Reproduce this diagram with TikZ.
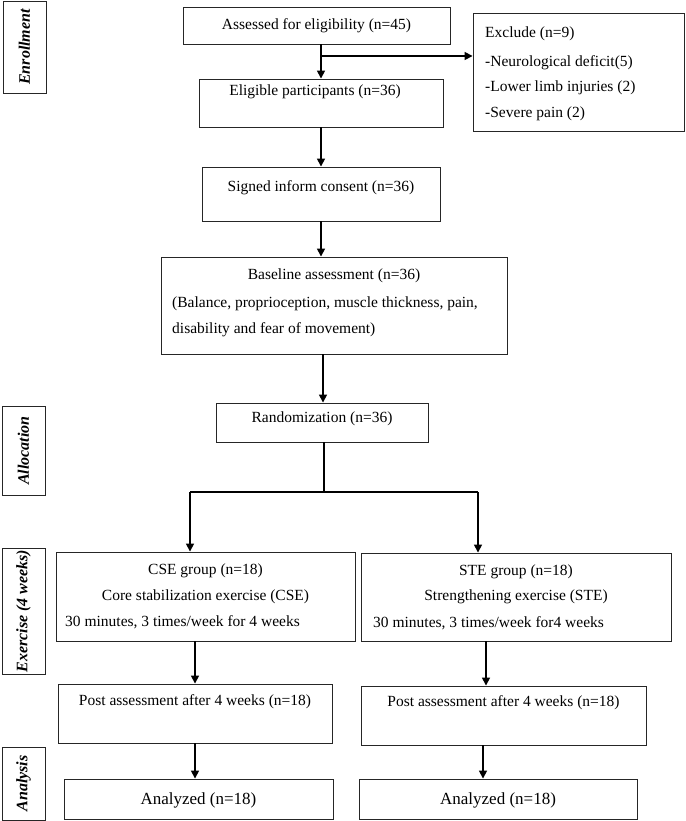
\documentclass[tikz,border=0pt]{standalone}
\usepackage{fontspec}
\setmainfont{Liberation Serif}
\usetikzlibrary{arrows.meta,calc}
\tikzset{
  box/.style={draw=black!85, line width=0.9pt, inner sep=0pt, rectangle},
  txt/.style={inner sep=0pt, font=\fontsize{15.5}{18}\selectfont, anchor=base},
  ltxt/.style={txt, anchor=base west},
  btxt/.style={inner sep=0pt, font=\fontsize{17}{20}\selectfont, anchor=base},
  side/.style={inner sep=0pt, font=\fontsize{16}{18}\selectfont\bfseries\itshape, rotate=90},
  arr/.style={line width=1.6pt, -{Triangle[length=8pt,width=8pt]}},
  ln/.style={line width=1.6pt},
}
\begin{document}
\begin{tikzpicture}[x=1pt,y=-1pt]
\useasboundingbox (0,0) rectangle (685,821);
% boxes
\node[box, minimum width=43pt, minimum height=92pt] (enr) at (24.5,47) {};
\node[box, minimum width=267pt, minimum height=37pt] (asm) at (316.5,25.5) {};
\node[box, minimum width=244pt, minimum height=48pt] (elig) at (321,103) {};
\node[box, minimum width=211pt, minimum height=118pt] (excl) at (578.5,72) {};
\node[box, minimum width=238pt, minimum height=54pt] (sign) at (321,194) {};
\node[box, minimum width=346pt, minimum height=97pt] (base) at (334,305.5) {};
\node[box, minimum width=43pt, minimum height=89pt] (alloc) at (23.5,450.5) {};
\node[box, minimum width=212pt, minimum height=39pt] (rand) at (322,422.5) {};
\node[box, minimum width=43pt, minimum height=126pt] (exlab) at (23.5,611) {};
\node[box, minimum width=299pt, minimum height=89pt] (cse) at (205.5,596.5) {};
\node[box, minimum width=310pt, minimum height=88pt] (ste) at (516,597) {};
\node[box, minimum width=274pt, minimum height=59pt] (postL) at (195,713.5) {};
\node[box, minimum width=285pt, minimum height=59pt] (postR) at (503.5,715.5) {};
\node[box, minimum width=43pt, minimum height=73pt] (analab) at (23.5,783.5) {};
\node[box, minimum width=269pt, minimum height=40pt] (anaL) at (198.5,799) {};
\node[box, minimum width=278pt, minimum height=40pt] (anaR) at (498,799) {};
% side labels
\node[side] (tenr) at (enr.center) {Enrollment};
\node[side] (talloc) at (alloc.center) {Allocation};
\node[side] (texlab) at (exlab.center) {Exercise (4 weeks)};
\node[side] (tanalab) at (analab.center) {Analysis};
% texts
\node[txt] (tasm) at (316.5,30) {Assessed for eligibility (n=45)};
\node[txt] (telig) at (315,96) {Eligible participants (n=36)};
\node[ltxt] (te1) at (485,38) {Exclude (n=9)};
\node[ltxt] (te2) at (485,67) {-Neurological deficit(5)};
\node[ltxt] (te3) at (485,92) {-Lower limb injuries (2)};
\node[ltxt] (te4) at (485,118) {-Severe pain (2)};
\node[txt] (tsign) at (321,191) {Signed inform consent (n=36)};
\node[txt] (tb1) at (334,279) {Baseline assessment (n=36)};
\node[ltxt] (tb2) at (172,307) {(Balance, proprioception, muscle thickness, pain,};
\node[ltxt] (tb3) at (172,333) {disability and fear of movement)};
\node[txt] (trand) at (322,422) {Randomization (n=36)};
\node[txt] (tc1) at (205.5,574) {CSE group (n=18)};
\node[txt] (tc2) at (205.5,600) {Core stabilization exercise (CSE)};
\node[ltxt] (tc3) at (65,626) {30 minutes, 3 times/week for 4 weeks};
\node[txt] (ts1) at (516,575) {STE group (n=18)};
\node[txt] (ts2) at (516,600) {Strengthening exercise (STE)};
\node[ltxt] (ts3) at (373,627) {30 minutes, 3 times/week for4 weeks};
\node[txt] (tpl) at (195,705) {Post assessment after 4 weeks (n=18)};
\node[txt] (tpr) at (503.5,706) {Post assessment after 4 weeks (n=18)};
\node[btxt] (tal) at (198.5,804) {Analyzed (n=18)};
\node[btxt] (tar) at (498,804) {Analyzed (n=18)};
% connectors
\coordinate (c1) at (321,56);
\draw[ln] (asm.south -| c1) -- (c1);
\draw[arr] (c1) -- (elig.north -| c1);
\draw[arr] (c1) -- (excl.west |- c1);
\draw[arr] (elig.south) -- (sign.north);
\draw[arr] (sign.south) -- (sign.south |- base.north);
\coordinate (c2) at (323,0);
\draw[arr] (base.south -| c2) -- (rand.north -| c2);
\coordinate (split) at (324,492);
\coordinate (bl) at (190,492);
\coordinate (br) at (478,492);
\draw[ln] (rand.south -| split) -- (split);
\draw[ln] (bl) -- (br);
\draw[arr] (bl) -- (bl |- cse.north);
\draw[arr] (br) -- (br |- ste.north);
\draw[arr] (cse.south -| postL.north) -- (postL.north);
\draw[arr] (postL.south) -- (postL.south |- anaL.north);
\coordinate (c3) at (486,0);
\draw[arr] (ste.south -| c3) -- (postR.north -| c3);
\coordinate (c4) at (483,0);
\draw[arr] (postR.south -| c4) -- (anaR.north -| c4);
\end{tikzpicture}
\end{document}
